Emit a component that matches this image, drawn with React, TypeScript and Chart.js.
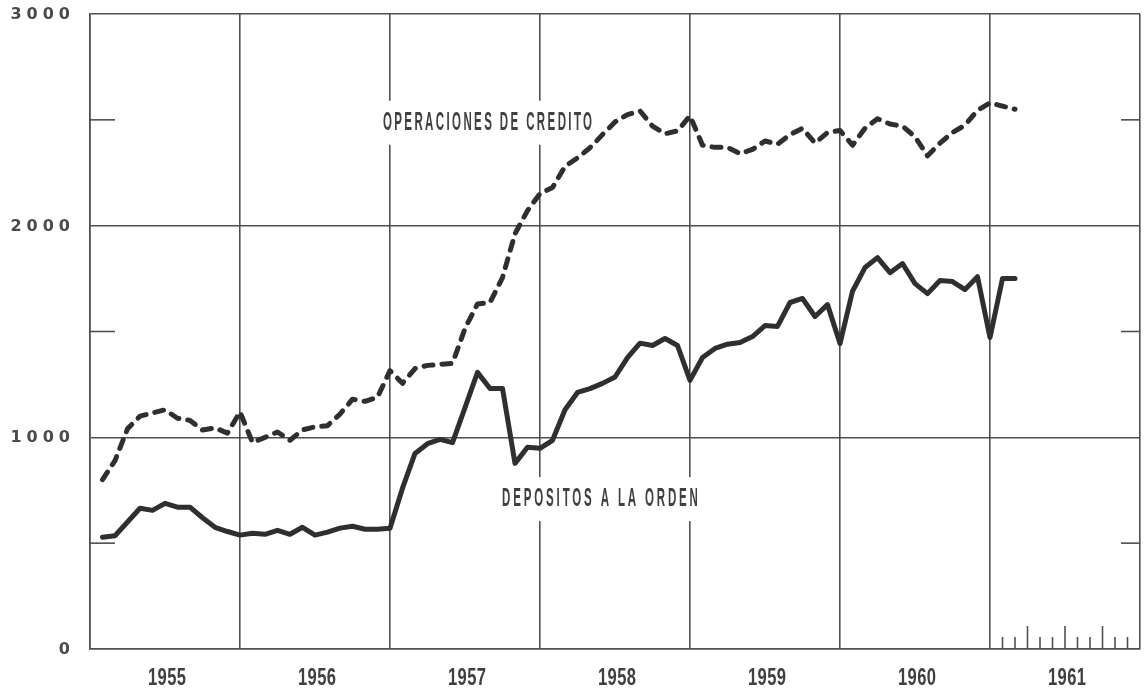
import React, { useEffect, useRef } from 'react';
import { Chart, registerables } from 'chart.js';

Chart.register(...registerables);

// ---- data ----
const startYear = 1955;
const endYear = 1962;
const yearLabels = ['1955', '1956', '1957', '1958', '1959', '1960', '1961'];
const yTickValues = [0, 1000, 2000, 3000];
const yTickLabels = ['0', '1000', '2000', '3000'];
const minorYValues = [500, 1500, 2500];
const monthTicks1961 = [1, 2, 3, 4, 5, 6, 7, 8, 9, 10, 11];

// monthly values, Jan 1955 .. Feb 1961
const depositos = [
  528, 535, 600, 665, 655, 688, 670, 670, 620, 575, 555, 538,
  547, 542, 561, 542, 575, 538, 552, 571, 580, 566, 566, 570,
  760, 924, 970, 990, 975, 1140, 1307, 1231, 1231, 877, 953, 948,
  986, 1130, 1212, 1230, 1255, 1285, 1377, 1445, 1434, 1467, 1434, 1269,
  1377, 1420, 1440, 1448, 1476, 1528, 1524, 1637, 1656, 1571, 1627, 1443,
  1690, 1802, 1849, 1778, 1821, 1726, 1679, 1741, 1736, 1698, 1759, 1472,
  1750, 1750,
];
const operaciones = [
  800, 890, 1040, 1100, 1115, 1130, 1090, 1080, 1035, 1045, 1020, 1120,
  975, 1000, 1025, 986, 1035, 1050, 1055, 1110, 1180, 1170, 1190, 1315,
  1255, 1325, 1340, 1345, 1350, 1514, 1630, 1637, 1755, 1962, 2071, 2151,
  2180, 2280, 2320, 2368, 2430, 2490, 2525, 2542, 2470, 2434, 2448, 2519,
  2380, 2370, 2370, 2340, 2360, 2400, 2385, 2430, 2460, 2390, 2440, 2450,
  2380, 2460, 2505, 2480, 2470, 2420, 2330, 2390, 2440, 2475, 2545, 2580,
  2565, 2550,
];

const labelOperaciones = 'OPERACIONES DE CREDITO';
const labelDepositos = 'DEPOSITOS A LA ORDEN';
const labelOperacionesPos = { x: 1957.65, y: 2486 };
const labelDepositosPos = { x: 1958.4, y: 708 };

// ---- styles ----
const GRID = '#4f4f4f';
const INK = '#2f2f2f';
const TEXT = '#404040';
const SANS = '"Liberation Sans", Arial, sans-serif';

const toPoints = (vals: number[]) =>
  vals.map((v, i) => ({ x: startYear + (i + 1) / 12, y: v }));

const isInt = (v: number) => Math.abs(v - Math.round(v)) < 1e-6;

const measureCondensed = (
  ctx: CanvasRenderingContext2D,
  text: string,
  font: string,
  sx: number,
  spacing: number
) => {
  ctx.save();
  ctx.font = font;
  (ctx as any).letterSpacing = `${spacing}px`;
  const w = (ctx.measureText(text).width - spacing) * sx;
  ctx.restore();
  return w;
};

// draw horizontally condensed text centred at (cx, cy)
const condensedText = (
  ctx: CanvasRenderingContext2D,
  text: string,
  cx: number,
  cy: number,
  font: string,
  sx: number,
  spacing: number
) => {
  const w = measureCondensed(ctx, text, font, 1, spacing);
  ctx.save();
  ctx.font = font;
  (ctx as any).letterSpacing = `${spacing}px`;
  ctx.translate(cx, cy);
  ctx.scale(sx, 1);
  ctx.textAlign = 'left';
  ctx.textBaseline = 'middle';
  ctx.fillText(text, -w / 2, 0);
  ctx.restore();
};

const LABEL_FONT = `bold 25px ${SANS}`;
const LABEL_SX = 0.46;
const YEAR_FONT = `bold 23px ${SANS}`;
const YEAR_SX = 0.72;

const decorPlugin = {
  id: 'decor',
  beforeDatasetsDraw(chart: any) {
    const { ctx, chartArea: a, scales } = chart;
    const x = scales.x;
    const y = scales.y;
    ctx.save();
    ctx.strokeStyle = GRID;
    ctx.lineWidth = 1.6;
    const seg = (x1: number, y1: number, x2: number, y2: number) => {
      ctx.beginPath();
      ctx.moveTo(x1, y1);
      ctx.lineTo(x2, y2);
      ctx.stroke();
    };
    minorYValues.forEach((v) => {
      const py = y.getPixelForValue(v);
      seg(a.left, py, a.left + 25, py);
      seg(a.right - 19, py, a.right, py);
    });
    monthTicks1961.forEach((m) => {
      const px = x.getPixelForValue(1961 + m / 12);
      const h = m % 3 === 0 ? 23 : 12;
      seg(px, a.bottom, px, a.bottom - h);
    });

    const drawLabel = (text: string, pos: { x: number; y: number }, spacing: number) => {
      const cx = x.getPixelForValue(pos.x);
      const cy = y.getPixelForValue(pos.y);
      const w = measureCondensed(ctx, text, LABEL_FONT, LABEL_SX, spacing);
      ctx.fillStyle = '#ffffff';
      ctx.fillRect(cx - w / 2 - 6, cy - 22, w + 12, 44);
      ctx.fillStyle = TEXT;
      condensedText(ctx, text, cx, cy, LABEL_FONT, LABEL_SX, spacing);
    };
    drawLabel(labelOperaciones, labelOperacionesPos, 5.2);
    drawLabel(labelDepositos, labelDepositosPos, 6.2);
    ctx.restore();
  },
  afterDraw(chart: any) {
    const { ctx, chartArea: a, scales } = chart;
    const x = scales.x;
    const y = scales.y;
    ctx.save();
    // year labels
    ctx.fillStyle = TEXT;
    yearLabels.forEach((lab, i) => {
      const cx = x.getPixelForValue(startYear + i + 0.5) + 2;
      condensedText(ctx, lab, cx, a.bottom + 30, YEAR_FONT, YEAR_SX, 0.5);
    });
    // y labels
    ctx.font = `bold 16px "DejaVu Sans", sans-serif`;
    const sp = 5;
    (ctx as any).letterSpacing = `${sp}px`;
    ctx.fillStyle = '#4a4a4a';
    ctx.textAlign = 'right';
    ctx.textBaseline = 'middle';
    yTickValues.forEach((v, i) => {
      ctx.fillText(yTickLabels[i], a.left - 20 + sp, y.getPixelForValue(v) + 1);
    });
    (ctx as any).letterSpacing = '0px';
    ctx.restore();
  },
};

export default function App() {
  const ref = useRef<HTMLCanvasElement | null>(null);

  useEffect(() => {
    if (!ref.current) return;
    const chart = new Chart(ref.current, {
      type: 'line',
      data: {
        datasets: [
          {
            label: labelOperaciones,
            data: toPoints(operaciones),
            borderColor: INK,
            borderWidth: 5,
            borderDash: [9, 9],
            borderCapStyle: 'round',
            borderJoinStyle: 'round',
            pointRadius: 0,
            tension: 0,
            fill: false,
          },
          {
            label: labelDepositos,
            data: toPoints(depositos),
            borderColor: INK,
            borderWidth: 5,
            borderCapStyle: 'round',
            borderJoinStyle: 'round',
            pointRadius: 0,
            tension: 0,
            fill: false,
          },
        ],
      },
      options: {
        animation: false,
        responsive: true,
        maintainAspectRatio: false,
        layout: { padding: { top: 14, right: 4, left: 0, bottom: 0 } },
        plugins: { legend: { display: false }, tooltip: { enabled: false } },
        scales: {
          x: {
            type: 'linear',
            min: startYear,
            max: endYear,
            afterFit: (s: any) => {
              s.height = 44;
              s.paddingLeft = 0;
              s.paddingRight = 0;
            },
            grid: {
              color: (c: any) => (c.tick && isInt(c.tick.value) ? GRID : 'rgba(0,0,0,0)'),
              lineWidth: 1.6,
              drawTicks: false,
            },
            border: { color: GRID, width: 1.6 },
            ticks: { display: false, stepSize: 1, autoSkip: false, maxRotation: 0 },
          },
          y: {
            min: 0,
            max: 3000,
            afterFit: (s: any) => {
              s.width = 90;
            },
            grid: {
              color: (c: any) => (c.tick && c.tick.value % 1000 === 0 ? GRID : 'rgba(0,0,0,0)'),
              lineWidth: 1.6,
              drawTicks: false,
            },
            border: { color: GRID, width: 1.6 },
            ticks: { display: false, stepSize: 500 },
          },
        },
      } as any,
      plugins: [decorPlugin],
    });
    return () => chart.destroy();
  }, []);

  return (
    <div style={{ position: 'absolute', left: 0, top: 0, width: '1144px', height: '693px', background: '#fff' }}>
      <canvas ref={ref} />
    </div>
  );
}
